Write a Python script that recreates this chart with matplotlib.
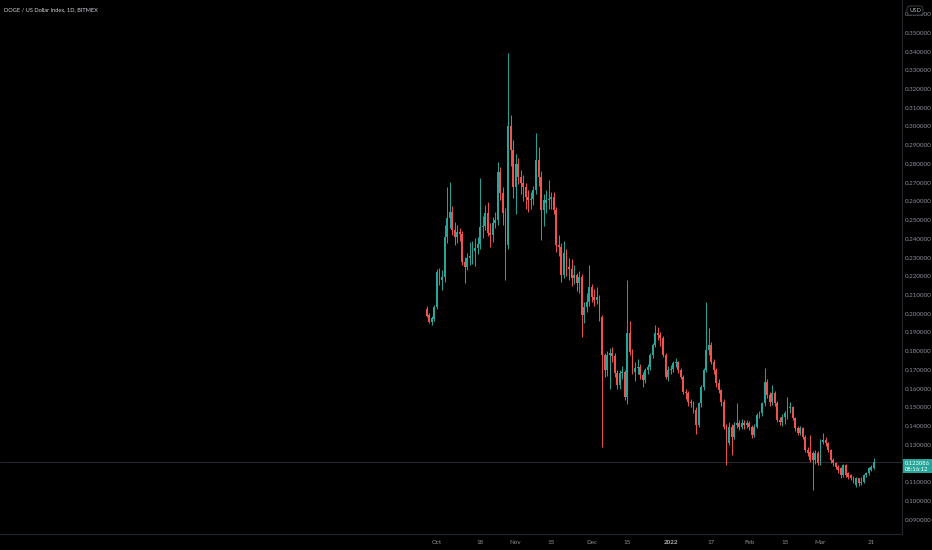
import matplotlib
matplotlib.use('Agg')

import matplotlib.pyplot as plt
import numpy as np
import pandas as pd

# DOGE daily candles, first candle 2021-09-27
START = '2021-09-27'

opens = [
  0.2025, 0.1995, 0.1955, 0.1972, 0.2037, 0.2221, 0.2180, 0.2195, 0.2411, 0.2509,
  0.2541, 0.2445, 0.2410, 0.2435, 0.2425, 0.2278, 0.2251, 0.2300, 0.2310, 0.2335,
  0.2350, 0.2370, 0.2464, 0.2470, 0.2538, 0.2431, 0.2420, 0.2485, 0.2500, 0.2758,
  0.2643, 0.2536, 0.2367, 0.3002, 0.2874, 0.2678, 0.2799, 0.2731, 0.2696, 0.2678,
  0.2625, 0.2607, 0.2615, 0.2660, 0.2820, 0.2731, 0.2554, 0.2590, 0.2605, 0.2615,
  0.2625, 0.2554, 0.2367, 0.2358, 0.2207, 0.2322, 0.2251, 0.2240, 0.2189, 0.2207,
  0.2162, 0.2198, 0.1993, 0.2037, 0.2064, 0.2144, 0.2090, 0.2075, 0.2090, 0.1984,
  0.1780, 0.1699, 0.1780, 0.1790, 0.1775, 0.1682, 0.1619, 0.1682, 0.1690, 0.1557,
  0.1895, 0.1797, 0.1690, 0.1708, 0.1715, 0.1673, 0.1646, 0.1699, 0.1717, 0.1780,
  0.1833, 0.1895, 0.1885, 0.1869, 0.1780, 0.1664, 0.1699, 0.1705, 0.1735, 0.1740,
  0.1699, 0.1664, 0.1584, 0.1575, 0.1530, 0.1522, 0.1486, 0.1406, 0.1522, 0.1610,
  0.1699, 0.1806, 0.1833, 0.1744, 0.1699, 0.1628, 0.1593, 0.1530, 0.1397, 0.1308,
  0.1397, 0.1343, 0.1406, 0.1415, 0.1397, 0.1415, 0.1406, 0.1415, 0.1397, 0.1352,
  0.1397, 0.1459, 0.1468, 0.1522, 0.1637, 0.1566, 0.1530, 0.1575, 0.1522, 0.1432,
  0.1423, 0.1450, 0.1468, 0.1495, 0.1500, 0.1441, 0.1388, 0.1361, 0.1388, 0.1343,
  0.1272, 0.1262, 0.1255, 0.1219, 0.1255, 0.1201, 0.1317, 0.1326, 0.1308, 0.1272,
  0.1219, 0.1201, 0.1183, 0.1175, 0.1139, 0.1192, 0.1148, 0.1139, 0.1130, 0.1085,
  0.1121, 0.1094, 0.1103, 0.1139, 0.1148, 0.1166, 0.1175,
]
highs = [
  0.2040, 0.2005, 0.1990, 0.2045, 0.2237, 0.2245, 0.2235, 0.2474, 0.2678, 0.2705,
  0.2575, 0.2490, 0.2475, 0.2460, 0.2440, 0.2305, 0.2325, 0.2385, 0.2390, 0.2405,
  0.2410, 0.2723, 0.2520, 0.2580, 0.2595, 0.2485, 0.2515, 0.2545, 0.2812, 0.2785,
  0.2675, 0.2565, 0.3390, 0.3060, 0.2930, 0.2855, 0.2830, 0.2770, 0.2740, 0.2700,
  0.2660, 0.2650, 0.2680, 0.2963, 0.2892, 0.2760, 0.2640, 0.2660, 0.2714, 0.2650,
  0.2650, 0.2570, 0.2420, 0.2380, 0.2390, 0.2345, 0.2300, 0.2290, 0.2260, 0.2220,
  0.2230, 0.2210, 0.2060, 0.2110, 0.2260, 0.2160, 0.2130, 0.2145, 0.2100, 0.1995,
  0.1790, 0.1800, 0.1815, 0.1820, 0.1790, 0.1700, 0.1700, 0.1720, 0.1700, 0.2180,
  0.1960, 0.1810, 0.1740, 0.1760, 0.1730, 0.1690, 0.1710, 0.1730, 0.1790, 0.1845,
  0.1940, 0.1930, 0.1900, 0.1880, 0.1790, 0.1720, 0.1725, 0.1750, 0.1765, 0.1750,
  0.1710, 0.1675, 0.1600, 0.1590, 0.1545, 0.1535, 0.1500, 0.1530, 0.1620, 0.1710,
  0.2064, 0.1924, 0.1850, 0.1760, 0.1710, 0.1650, 0.1600, 0.1545, 0.1410, 0.1420,
  0.1410, 0.1420, 0.1522, 0.1430, 0.1440, 0.1430, 0.1435, 0.1425, 0.1405, 0.1410,
  0.1470, 0.1480, 0.1530, 0.1708, 0.1650, 0.1580, 0.1620, 0.1590, 0.1535, 0.1450,
  0.1465, 0.1480, 0.1557, 0.1530, 0.1505, 0.1450, 0.1400, 0.1400, 0.1395, 0.1350,
  0.1290, 0.1352, 0.1265, 0.1270, 0.1265, 0.1330, 0.1361, 0.1340, 0.1315, 0.1280,
  0.1228, 0.1210, 0.1190, 0.1180, 0.1200, 0.1198, 0.1155, 0.1145, 0.1135, 0.1128,
  0.1125, 0.1130, 0.1145, 0.1155, 0.1182, 0.1190, 0.1228,
]
lows = [
  0.1980, 0.1948, 0.1940, 0.1960, 0.2025, 0.2155, 0.2127, 0.2170, 0.2380, 0.2460,
  0.2420, 0.2365, 0.2380, 0.2390, 0.2260, 0.2164, 0.2235, 0.2260, 0.2265, 0.2255,
  0.2320, 0.2345, 0.2405, 0.2445, 0.2415, 0.2358, 0.2385, 0.2460, 0.2475, 0.2605,
  0.2475, 0.2180, 0.2345, 0.2790, 0.2620, 0.2530, 0.2690, 0.2640, 0.2600, 0.2560,
  0.2545, 0.2560, 0.2580, 0.2640, 0.2680, 0.2394, 0.2470, 0.2540, 0.2560, 0.2560,
  0.2530, 0.2330, 0.2310, 0.2170, 0.2190, 0.2200, 0.2180, 0.2150, 0.2160, 0.2120,
  0.2110, 0.1877, 0.1950, 0.2010, 0.2040, 0.2060, 0.2040, 0.2050, 0.1960, 0.1290,
  0.1660, 0.1670, 0.1600, 0.1740, 0.1660, 0.1600, 0.1600, 0.1650, 0.1540, 0.1520,
  0.1780, 0.1680, 0.1640, 0.1680, 0.1650, 0.1610, 0.1630, 0.1680, 0.1700, 0.1765,
  0.1820, 0.1860, 0.1830, 0.1770, 0.1650, 0.1640, 0.1680, 0.1690, 0.1715, 0.1685,
  0.1650, 0.1570, 0.1545, 0.1510, 0.1500, 0.1470, 0.1360, 0.1395, 0.1500, 0.1595,
  0.1690, 0.1780, 0.1730, 0.1680, 0.1610, 0.1575, 0.1510, 0.1385, 0.1192, 0.1300,
  0.1246, 0.1330, 0.1390, 0.1380, 0.1385, 0.1385, 0.1390, 0.1380, 0.1335, 0.1340,
  0.1390, 0.1445, 0.1455, 0.1510, 0.1550, 0.1510, 0.1515, 0.1510, 0.1420, 0.1405,
  0.1400, 0.1410, 0.1440, 0.1470, 0.1430, 0.1375, 0.1350, 0.1350, 0.1330, 0.1260,
  0.1240, 0.1210, 0.1059, 0.1200, 0.1190, 0.1195, 0.1305, 0.1295, 0.1260, 0.1205,
  0.1185, 0.1170, 0.1150, 0.1125, 0.1130, 0.1130, 0.1120, 0.1110, 0.1095, 0.1075,
  0.1078, 0.1085, 0.1095, 0.1130, 0.1140, 0.1160, 0.1170,
]
closes = [
  0.1990, 0.1957, 0.1975, 0.2037, 0.2221, 0.2180, 0.2195, 0.2411, 0.2509, 0.2541,
  0.2445, 0.2410, 0.2435, 0.2425, 0.2278, 0.2251, 0.2300, 0.2310, 0.2335, 0.2350,
  0.2370, 0.2464, 0.2470, 0.2538, 0.2431, 0.2420, 0.2485, 0.2500, 0.2758, 0.2643,
  0.2536, 0.2367, 0.3002, 0.2874, 0.2678, 0.2799, 0.2731, 0.2696, 0.2678, 0.2625,
  0.2607, 0.2615, 0.2660, 0.2820, 0.2731, 0.2554, 0.2607, 0.2605, 0.2615, 0.2625,
  0.2554, 0.2367, 0.2358, 0.2207, 0.2322, 0.2251, 0.2240, 0.2189, 0.2207, 0.2162,
  0.2198, 0.1993, 0.2037, 0.2064, 0.2144, 0.2090, 0.2075, 0.2090, 0.1984, 0.1780,
  0.1699, 0.1780, 0.1790, 0.1775, 0.1682, 0.1619, 0.1682, 0.1690, 0.1557, 0.1895,
  0.1797, 0.1690, 0.1708, 0.1715, 0.1673, 0.1646, 0.1699, 0.1717, 0.1780, 0.1833,
  0.1895, 0.1885, 0.1869, 0.1780, 0.1664, 0.1699, 0.1705, 0.1735, 0.1740, 0.1699,
  0.1664, 0.1584, 0.1575, 0.1530, 0.1522, 0.1486, 0.1406, 0.1522, 0.1610, 0.1699,
  0.1806, 0.1833, 0.1744, 0.1699, 0.1628, 0.1593, 0.1530, 0.1397, 0.1308, 0.1397,
  0.1343, 0.1406, 0.1415, 0.1397, 0.1415, 0.1406, 0.1415, 0.1397, 0.1352, 0.1397,
  0.1459, 0.1468, 0.1522, 0.1637, 0.1566, 0.1530, 0.1575, 0.1522, 0.1432, 0.1423,
  0.1450, 0.1468, 0.1495, 0.1500, 0.1441, 0.1388, 0.1361, 0.1388, 0.1343, 0.1272,
  0.1255, 0.1219, 0.1219, 0.1255, 0.1201, 0.1317, 0.1326, 0.1308, 0.1272, 0.1219,
  0.1201, 0.1183, 0.1166, 0.1139, 0.1192, 0.1139, 0.1130, 0.1121, 0.1103, 0.1121,
  0.1094, 0.1103, 0.1139, 0.1148, 0.1175, 0.1183, 0.1210,
]

tick_dates = ['2021-10-01', '2021-10-18', '2021-11-01', '2021-11-15', '2021-12-01',
              '2021-12-15', '2022-01-01', '2022-01-17', '2022-02-01', '2022-02-15',
              '2022-03-01', '2022-03-21']
tick_labels = ['Oct', '18', 'Nov', '15', 'Dec', '15', '2022', '17', 'Feb', '15', 'Mar', '21']

TITLE = 'DOGE / US Dollar Index, 1D, BITMEX'
LAST_LABEL = '0.123086'
COUNTDOWN = '08:16:12'

UP = '#26a69a'
DOWN = '#ef5350'
BG = '#000000'
TXT = '#8d9099'
LINE = '#24262d'

plt.rcParams['font.family'] = ['Lato', 'DejaVu Sans']

o = np.array(opens)
h = np.array(highs)
l = np.array(lows)
c = np.array(closes)
n = len(c)
x = np.arange(n)
dates = pd.date_range(START, periods=n, freq='D')

fig = plt.figure(figsize=(9.32, 5.5), dpi=100, facecolor=BG)
ax = fig.add_axes([0, 16 / 550, 902 / 932, 534 / 550], facecolor=BG)

colors = np.where(c >= o, UP, DOWN)
ax.vlines(x, l, h, colors=colors, linewidth=0.7, zorder=3)
body_bottom = np.minimum(o, c)
body_height = np.maximum(np.abs(c - o), 0.0004)
ax.bar(x, body_height, bottom=body_bottom, width=0.74, color=colors, linewidth=0, zorder=4)

# last price line
ax.axhline(c[-1], color='#2c2f37', linewidth=0.6, zorder=2)

ax.set_xlim(-168.0, 187.1)
ax.set_ylim(0.0824, 0.3675)

# price scale on the right (the 0.12 level sits under the price tag)
yt = np.arange(0.09, 0.3605, 0.01)
ax.yaxis.tick_right()
ax.set_yticks(yt)
ax.set_yticklabels(['' if abs(v - 0.12) < 1e-6 else '%.6f' % v for v in yt])
ax.tick_params(axis='y', length=0, pad=2.3, labelsize=4.5, labelcolor=TXT)

tick_pos = [(pd.Timestamp(d) - dates[0]).days for d in tick_dates]
ax.set_xticks(tick_pos)
ax.set_xticklabels(tick_labels)
ax.tick_params(axis='x', length=0, pad=4, labelsize=4.5, labelcolor=TXT)
for lab in ax.get_xticklabels():
  if lab.get_text() == '2022':
    lab.set_fontweight('bold')
    lab.set_color('#b2b5be')

for side in ['left', 'top']:
  ax.spines[side].set_visible(False)
for side in ['right', 'bottom']:
  ax.spines[side].set_color(LINE)
  ax.spines[side].set_linewidth(0.8)

# last price tag
ax.annotate(LAST_LABEL + '\n' + COUNTDOWN, xy=(1, c[-1]),
            xycoords=('axes fraction', 'data'), xytext=(2.3, -3.2),
            textcoords='offset points', ha='left', va='center',
            fontsize=4.2, color='white', linespacing=1.3,
            bbox=dict(boxstyle='square,pad=0.3', facecolor=UP, edgecolor='none'),
            annotation_clip=False, zorder=20)

# currency button
fig.text(915 / 932, 1 - 10.5 / 550, 'USD', ha='center', va='center', fontsize=4.2,
         color='#b2b5be',
         bbox=dict(boxstyle='round,pad=0.35,rounding_size=0.6', facecolor=BG,
                   edgecolor='#434651', linewidth=0.6), zorder=20)

fig.text(3.5 / 932, 1 - 9.3 / 550, TITLE, ha='left', va='center', fontsize=4.1,
         color='#d1d4dc')

fig.savefig('out.png', dpi=100, facecolor=BG)
